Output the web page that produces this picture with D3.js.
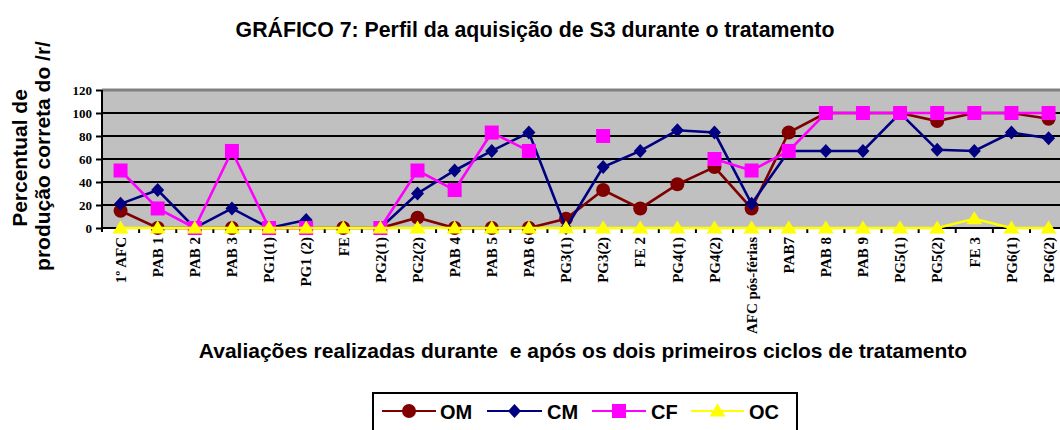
<!DOCTYPE html>
<html>
<head>
<meta charset="utf-8">
<script src="https://cdn.jsdelivr.net/npm/d3@7"></script>
<style>
  html, body { margin: 0; padding: 0; background: #fff; }
  svg { display: block; }
</style>
</head>
<body>
<svg id="chart" width="1060" height="430"></svg>
<script>
const categories = ["1º AFC","PAB 1","PAB 2","PAB 3","PG1(1)","PG1 (2)","FE","PG2(1)","PG2(2)","PAB 4","PAB 5","PAB 6","PG3(1)","PG3(2)","FE 2","PG4(1)","PG4(2)","AFC pós-férias","PAB7","PAB 8","PAB 9","PG5(1)","PG5(2)","FE 3","PG6(1)","PG6(2)"];
const omValues = [15,0,0,0,0,0,0,0,9,0,0,0,8,33,17,38,53,17,83,100,100,100,93,100,100,95];
const cmValues = [21,33,0,17,0,7,null,0,30,50,67,83,0,53,67,85,83,21,67,67,67,100,68,67,83,78];
const cfValues = [50,17,0,67,0,0,null,0,50,33,83,67,null,80,null,null,60,50,67,100,100,100,100,100,100,100];
const ocValues = [0,0,0,0,0,0,0,0,0,0,0,0,0,0,0,0,0,0,0,0,0,0,0,8,0,0];
const seriesNames = ["OM","CM","CF","OC"];
const yTicks = [0,20,40,60,80,100,120];

const titleText = "GRÁFICO 7: Perfil da aquisição de S3 durante o tratamento";
const xTitleText = "Avaliações realizadas durante  e após os dois primeiros ciclos de tratamento";
const yTitleLines = ["Percentual de","produção correta do /r/"];

const svg = d3.select("#chart");
const sans = "'Liberation Sans', Arial, sans-serif";
const serif = "'Liberation Serif', 'Times New Roman', serif";

const left = 102, band = 37.12;
const x = d3.scaleBand().domain(categories).range([left, left + band * categories.length]).padding(0);
const y = d3.scaleLinear().domain([0,120]).range([228, 90]);
const cx = c => x(c) + x.bandwidth() / 2;
const right = left + band * categories.length;

svg.append("rect").attr("width",1060).attr("height",430).attr("fill","#fff");

// plot area
svg.append("rect").attr("x", left).attr("y", y(120)).attr("width", right - left).attr("height", y(0) - y(120)).attr("fill", "#C0C0C0");
svg.append("line").attr("x1", left).attr("x2", right).attr("y1", y(120)).attr("y2", y(120)).attr("stroke", "#808080").attr("stroke-width", 3);
svg.append("g").selectAll("line").data(yTicks.filter(t => t > 0 && t < 120)).join("line")
  .attr("x1", left).attr("x2", right).attr("y1", d => y(d)).attr("y2", d => y(d))
  .attr("stroke", "#000").attr("stroke-width", 2);

// y axis
const yAxis = d3.axisLeft(y).tickValues(yTicks).tickSize(6).tickPadding(4);
const gy = svg.append("g").attr("transform", `translate(${left},0)`).call(yAxis);
gy.select(".domain").attr("stroke", "#000").attr("stroke-width", 2).attr("d", `M0,${y(120)}V${y(0)+4}`);
gy.selectAll(".tick line").attr("stroke", "#000").attr("stroke-width", 2);
gy.selectAll(".tick text").attr("font-family", serif).attr("font-weight", "bold").attr("font-size", 13).attr("fill", "#000");

// x axis baseline (black, later covered by OC yellow line)
svg.append("line").attr("x1", left).attr("x2", right).attr("y1", y(0)).attr("y2", y(0)).attr("stroke", "#000").attr("stroke-width", 2);
// x ticks at band boundaries
svg.append("g").selectAll("line").data(categories).join("line")
  .attr("x1", d => x(d) + band).attr("x2", d => x(d) + band)
  .attr("y1", y(0)).attr("y2", y(0) + 5).attr("stroke", "#000").attr("stroke-width", 2);
// x labels via axis
const xAxis = d3.axisBottom(x).tickSize(0).tickPadding(0);
const gx = svg.append("g").attr("transform", `translate(0,${y(0)})`).call(xAxis);
gx.select(".domain").remove();
gx.selectAll(".tick text")
  .attr("font-family", serif).attr("font-weight", "bold").attr("font-size", 15).attr("fill", "#000")
  .attr("text-anchor", "end").attr("transform", "translate(0,9) rotate(-90)")
  .attr("x", 0).attr("y", 0).attr("dy", "0.35em");

// marker shapes
const shapes = {
  circle: "M7,0A7,7 0 1,1 -7,0A7,7 0 1,1 7,0Z",
  diamond: "M0,-7L6.5,0L0,7L-6.5,0Z",
  square: "M-7,-7H7V7H-7Z",
  triangle: "M0,-7.5L8,5.5H-8Z"
};
const series = [
  {name: "OM", values: omValues, color: "#800000", shape: "circle"},
  {name: "CM", values: cmValues, color: "#000080", shape: "diamond"},
  {name: "CF", values: cfValues, color: "#FF00FF", shape: "square"},
  {name: "OC", values: ocValues, color: "#FFFF00", shape: "triangle"}
];
const line = d3.line().defined(d => d.v != null).x(d => cx(d.c)).y(d => y(d.v));
series.forEach(s => {
  const pts = categories.map((c, i) => ({c, v: s.values[i]}));
  const g = svg.append("g");
  g.append("path").attr("d", line(pts)).attr("fill", "none").attr("stroke", s.color).attr("stroke-width", 2.6);
  g.selectAll("path.m").data(pts.filter(d => d.v != null)).join("path").attr("class", "m")
    .attr("d", shapes[s.shape]).attr("transform", d => `translate(${cx(d.c)},${y(d.v)})`)
    .attr("fill", s.color);
});

// titles
svg.append("text").attr("x", 535).attr("y", 36.5).attr("text-anchor", "middle")
  .attr("font-family", sans).attr("font-weight", "bold").attr("font-size", 21.3).text(titleText);
svg.append("text").attr("x", 583).attr("y", 358).attr("text-anchor", "middle").style("white-space", "pre")
  .attr("font-family", sans).attr("font-weight", "bold").attr("font-size", 21).text(xTitleText);
svg.append("text").attr("transform", "translate(27,158) rotate(-90)").attr("text-anchor", "middle")
  .attr("font-family", sans).attr("font-weight", "bold").attr("font-size", 21).text(yTitleLines[0]);
svg.append("text").attr("transform", "translate(50,156) rotate(-90)").attr("text-anchor", "middle")
  .attr("font-family", sans).attr("font-weight", "bold").attr("font-size", 21).text(yTitleLines[1]);

// legend
svg.append("rect").attr("x", 373).attr("y", 393).attr("width", 424).attr("height", 45)
  .attr("fill", "#fff").attr("stroke", "#000").attr("stroke-width", 2);
const legendPos = [
  {x1: 382, x2: 436, tx: 440},
  {x1: 487, x2: 542, tx: 547},
  {x1: 592, x2: 646, tx: 651},
  {x1: 691, x2: 744, tx: 749}
];
series.forEach((s, i) => {
  const p = legendPos[i];
  svg.append("line").attr("x1", p.x1).attr("x2", p.x2).attr("y1", 411).attr("y2", 411).attr("stroke", s.color).attr("stroke-width", 2);
  svg.append("path").attr("d", shapes[s.shape]).attr("transform", `translate(${(p.x1 + p.x2) / 2},411)`).attr("fill", s.color);
  svg.append("text").attr("x", p.tx).attr("y", 419).attr("font-family", sans).attr("font-weight", "bold").attr("font-size", 20).text(seriesNames[i]);
});
</script>
</body>
</html>
